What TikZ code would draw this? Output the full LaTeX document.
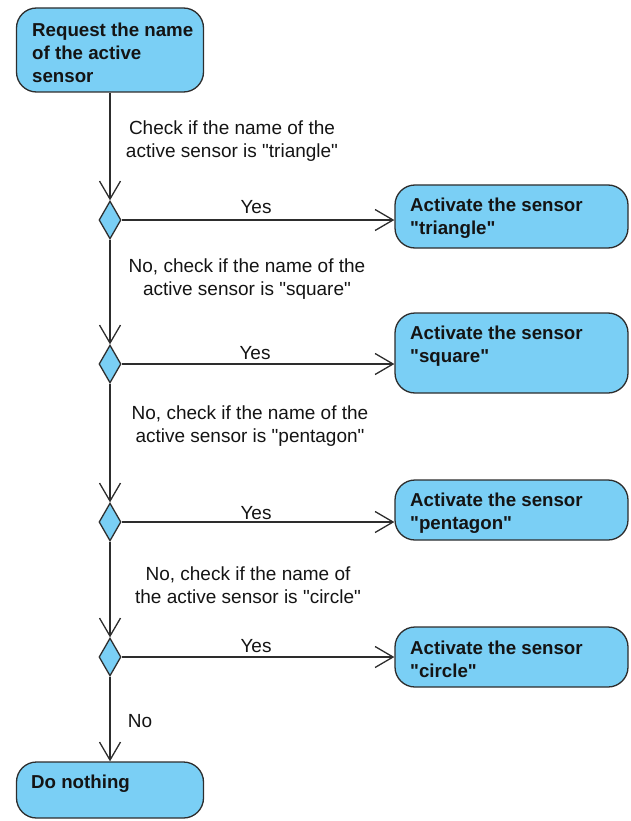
\documentclass[tikz,border=0pt]{standalone}
\usepackage{fontspec}
\setmainfont{Liberation Sans}[Ligatures=TeXOff]
\usetikzlibrary{shapes.geometric,arrows.meta}
\definecolor{actfill}{RGB}{122,207,245}
\definecolor{edge}{RGB}{45,45,45}
\definecolor{ink}{RGB}{20,20,20}
\tikzset{
  action/.style={draw=edge, fill=actfill, line width=1.3pt, rounded corners=20pt,
    rectangle, inner sep=0pt},
  acttext/.style={font=\bfseries\fontsize{18.7}{23}\selectfont, text=ink,
    align=left, anchor=north west, inner sep=0pt},
  decision/.style={draw=edge, fill=actfill, line width=1.3pt, diamond,
    minimum width=22pt, minimum height=38pt, inner sep=0pt},
  flow/.style={draw=edge, line width=1.3pt, -{Straight Barb[length=18pt,width=21pt]}},
  guard/.style={font=\fontsize{19}{23.5}\selectfont, text=ink, align=center, inner sep=0pt}
}
\begin{document}
\begin{tikzpicture}[x=1pt,y=-1pt]
\useasboundingbox (0,0) rectangle (631,821);

% action boxes
\node[action, minimum width=187pt, minimum height=84pt] (req) at (110,50) {};
\node[action, minimum width=233pt, minimum height=63pt] (tri) at (511.5,216.5) {};
\node[action, minimum width=233pt, minimum height=80pt] (sqr) at (511.5,353) {};
\node[action, minimum width=233pt, minimum height=60pt] (pen) at (511.5,510) {};
\node[action, minimum width=233pt, minimum height=60pt] (cir) at (511.5,657) {};
\node[action, minimum width=187pt, minimum height=56pt] (none) at (110,790) {};

% action texts
\node[acttext] (reqtext) at (32,23) {Request the name\\of the active\\sensor};
\node[acttext] (tritext) at (410,198) {Activate the sensor\\"triangle"};
\node[acttext] (sqrtext) at (410,326) {Activate the sensor\\"square"};
\node[acttext] (pentext) at (410,493) {Activate the sensor\\"pentagon"};
\node[acttext] (cirtext) at (410,641) {Activate the sensor\\"circle"};
\node[acttext] (nonetext) at (31,775) {Do nothing};

% decisions
\node[decision] (d1) at (110,220) {};
\node[decision] (d2) at (110,364) {};
\node[decision] (d3) at (110,522) {};
\node[decision] (d4) at (110,657) {};

% control flows
\draw[flow] (req.south) -- (d1.north);
\draw[flow] (d1.south) -- (d2.north);
\draw[flow] (d2.south) -- (d3.north);
\draw[flow] (d3.south) -- (d4.north);
\draw[flow] (d4.south) -- (none.north);
\draw[flow] (d1.east) -- (d1.east -| tri.west);
\draw[flow] (d2.east) -- (d2.east -| sqr.west);
\draw[flow] (d3.east) -- (d3.east -| pen.west);
\draw[flow] (d4.east) -- (d4.east -| cir.west);

% guards
\node[guard] (g1) at (232,141) {Check if the name of the\\active sensor is "triangle"};
\node[guard] (g2) at (247,279) {No, check if the name of the\\active sensor is "square"};
\node[guard] (g3) at (250,426) {No, check if the name of the\\active sensor is "pentagon"};
\node[guard] (g4) at (248,585) {No, check if the name of\\the active sensor is "circle"};
\node[guard] (y1) at (256,207) {Yes};
\node[guard] (y2) at (255,353) {Yes};
\node[guard] (y3) at (256,513) {Yes};
\node[guard] (y4) at (256,646) {Yes};
\node[guard] (no) at (140,721) {No};
\end{tikzpicture}
\end{document}
